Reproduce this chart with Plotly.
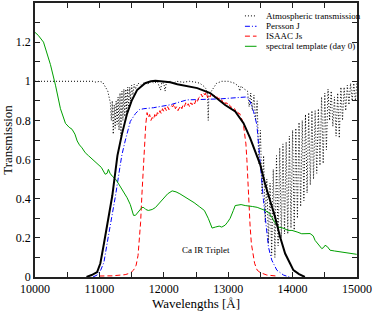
import plotly.graph_objects as go

# ---------------- data ----------------
atm_wl = [10000, 10500, 10900, 10950, 11000, 11050, 11100, 11130, 11150, 11170,
          11185, 11200, 11215, 11230, 11245, 11260, 11275, 11290, 11305, 11320,
          11335, 11350, 11365, 11380, 11395, 11410, 11425, 11440, 11455, 11470,
          11485, 11500, 11520, 11540, 11560, 11600, 11650, 11700, 11750, 11800,
          11850, 11900, 11950, 11970, 12000, 12020, 12040, 12100, 12150, 12200,
          12300, 12400, 12500, 12560, 12620, 12660, 12680, 12690, 12700, 12720,
          12760, 12820, 12900, 13000, 13100, 13160, 13180, 13200, 13250,
          13300, 13325, 13350, 13375, 13400, 13425, 13450, 13475, 13500, 13525,
          13550, 13575, 13600, 13625, 13650, 13675, 13700, 13725, 13750, 13775,
          13800, 13825, 13850, 13875, 13900, 13925, 13950, 13975, 14000, 14025,
          14050, 14075, 14100, 14125, 14150, 14175, 14200, 14225, 14250, 14275,
          14300, 14325, 14350, 14375, 14400, 14425, 14450, 14475, 14500, 14525,
          14550, 14575, 14600, 14625, 14650, 14675, 14700, 14725, 14750, 14775,
          14800, 14825, 14850, 14875, 14900, 14925, 14950, 14975, 15000]
atm_tr = [1.0, 1.0, 1.0, 0.995, 1.0, 0.995, 0.97, 0.95, 0.92, 0.89,
          0.80, 0.90, 0.73, 0.88, 0.76, 0.90, 0.78, 0.92, 0.75, 0.94,
          0.72, 0.95, 0.80, 0.96, 0.82, 0.96, 0.84, 0.97, 0.86, 0.97,
          0.90, 0.98, 0.93, 0.985, 0.96, 0.99, 0.98, 0.995, 0.985, 1.0,
          0.99, 1.0, 0.955, 0.995, 0.99, 0.95, 0.995, 1.0, 0.99, 1.0,
          0.995, 1.0, 0.995, 0.99, 0.975, 0.96, 0.93, 0.80, 0.93, 0.94,
          0.965, 0.99, 1.0, 1.0, 0.99, 0.975, 0.95, 0.975, 0.96,
          0.95, 0.87, 0.94, 0.85, 0.93, 0.80, 0.90, 0.58, 0.75, 0.42,
          0.62, 0.28, 0.50, 0.17, 0.48, 0.11, 0.55, 0.10, 0.62, 0.16,
          0.66, 0.20, 0.68, 0.22, 0.69, 0.22, 0.72, 0.25, 0.75, 0.24,
          0.76, 0.30, 0.79, 0.36, 0.80, 0.39, 0.83, 0.43, 0.84, 0.47,
          0.85, 0.50, 0.85, 0.53, 0.86, 0.57, 0.92, 0.58, 0.94, 0.65,
          0.96, 0.80, 0.95, 0.77, 0.92, 0.72, 0.94, 0.71, 0.97, 0.80,
          0.97, 0.85, 0.98, 0.88, 0.99, 0.90, 0.99, 0.90, 1.0]

persson_wl = [10900, 10965, 11020, 11070, 11140, 11200, 11250, 11325, 11350, 11400,
              11480, 11560, 11620, 11690, 11840, 12100, 12360, 12870, 13200, 13290,
              13341, 13393, 13445, 13470, 13496, 13522, 13548, 13574, 13600, 13625,
              13677, 13755, 13858, 13950]
persson_tr = [0.0, 0.01, 0.035, 0.075, 0.21, 0.32, 0.415, 0.575, 0.625, 0.695,
              0.795, 0.835, 0.855, 0.86, 0.865, 0.88, 0.905, 0.91, 0.918, 0.92,
              0.896, 0.846, 0.778, 0.694, 0.609, 0.49, 0.39, 0.305, 0.238, 0.153,
              0.086, 0.035, 0.01, 0.0]

isaac_wl = [11000, 11200, 11400, 11480, 11530, 11570, 11600, 11620, 11640, 11660,
            11680, 11700, 11720,
            11740, 11760, 11780, 11800, 11820, 11840, 11860, 11880, 11900, 11920,
            11940, 11960, 11980, 12000, 12020, 12040, 12060, 12080, 12100, 12120,
            12140, 12160, 12180, 12200, 12220, 12240, 12260, 12280, 12300, 12320,
            12340, 12360, 12380, 12400, 12420, 12440, 12460, 12480, 12500, 12520,
            12540, 12560, 12580, 12600, 12620, 12640, 12660, 12680, 12700, 12720,
            12740, 12760, 12780, 12800, 12820, 12840, 12860, 12880, 12900, 12920,
            12940, 12960, 12980, 13000, 13020, 13040, 13060, 13080, 13100, 13120,
            13140, 13160, 13180, 13200,
            13220, 13240, 13260, 13275, 13290, 13305, 13320, 13340, 13360, 13385,
            13410, 13450, 13500, 13600, 13750]
isaac_tr = [0.005, 0.006, 0.012, 0.02, 0.035, 0.06, 0.11, 0.18, 0.28, 0.42,
            0.56, 0.68, 0.78,
            0.84, 0.815, 0.83, 0.80, 0.815, 0.805, 0.83, 0.815, 0.84, 0.83,
            0.85, 0.835, 0.86, 0.845, 0.865, 0.85, 0.87, 0.855, 0.865, 0.875,
            0.87, 0.885, 0.86, 0.87, 0.85, 0.865, 0.875, 0.86, 0.88, 0.87,
            0.89, 0.875, 0.885, 0.87, 0.89, 0.88, 0.895, 0.885, 0.905, 0.895,
            0.915, 0.92, 0.935, 0.92, 0.94, 0.93, 0.945, 0.915, 0.93, 0.92,
            0.94, 0.925, 0.93, 0.915, 0.925, 0.91, 0.915, 0.90, 0.905, 0.89,
            0.90, 0.885, 0.89, 0.875, 0.88, 0.865, 0.87, 0.855, 0.86, 0.845,
            0.85, 0.835, 0.835, 0.815,
            0.80, 0.77, 0.72, 0.68, 0.60, 0.48, 0.38, 0.26, 0.17, 0.11,
            0.07, 0.035, 0.022, 0.01, 0.005]

template_wl = [10000, 10050, 10132, 10200, 10240, 10318, 10395, 10473, 10530, 10575,
               10620, 10655, 10690, 10730, 10780, 10830, 10900, 10965, 11030, 11090,
               11120, 11140, 11165, 11200, 11250, 11300, 11370, 11430, 11480, 11510,
               11530, 11560, 11600, 11630, 11660, 11690, 11720, 11760, 11820, 11870,
               11940, 12000, 12060, 12130, 12190, 12250, 12300, 12360, 12420, 12470,
               12550, 12630, 12690, 12750, 12800, 12860, 12900, 12953, 12990, 13030,
               13080, 13109, 13200, 13264, 13380, 13450, 13574, 13640, 13677, 13720,
               13780, 13850, 13930, 13990, 14070, 14142, 14271, 14320, 14349, 14400,
               14453, 14480, 14504, 14540, 14581, 14650, 14736, 14850, 14995]
template_tr = [1.25, 1.235, 1.2, 1.13, 1.085, 0.98, 0.86, 0.785, 0.765, 0.755,
               0.73, 0.695, 0.675, 0.66, 0.635, 0.62, 0.60, 0.58, 0.56, 0.525,
               0.53, 0.55, 0.53, 0.515, 0.50, 0.475, 0.44, 0.405, 0.37, 0.33,
               0.315, 0.315, 0.33, 0.34, 0.355, 0.355, 0.345, 0.34, 0.345, 0.355,
               0.38, 0.40, 0.425, 0.44, 0.435, 0.425, 0.415, 0.405, 0.39, 0.38,
               0.36, 0.34, 0.30, 0.25, 0.255, 0.26, 0.255, 0.265, 0.28, 0.30,
               0.34, 0.365, 0.37, 0.365, 0.36, 0.356, 0.34, 0.325, 0.305, 0.28,
               0.255, 0.25, 0.238, 0.238, 0.23, 0.221, 0.222, 0.21, 0.187, 0.165,
               0.145, 0.15, 0.162, 0.155, 0.137, 0.133, 0.128, 0.122, 0.116]

filter_wl = [10800, 10880, 10965, 11015, 11070, 11120, 11200, 11280, 11350, 11430,
             11500, 11585, 11650, 11710, 11800, 11870, 11950, 12100, 12210, 12360,
             12520, 12720, 12953, 13109, 13238, 13341, 13419, 13496, 13574, 13651,
             13729, 13806, 13884, 13961, 14012, 14100, 14190]
filter_tr = [0.0, 0.01, 0.025, 0.07, 0.17, 0.265, 0.415, 0.62, 0.73, 0.835,
             0.90, 0.955, 0.975, 0.99, 1.0, 1.003, 1.0, 0.995, 0.985, 0.975,
             0.965, 0.94, 0.879, 0.846, 0.786, 0.71, 0.643, 0.576, 0.474, 0.39,
             0.305, 0.204, 0.12, 0.069, 0.035, 0.015, 0.0]

x_tickvals = [10000, 10500, 11000, 11500, 12000, 12500, 13000, 13500, 14000, 14500, 15000]
x_ticktext = ["10000", "", "11000", "", "12000", "", "13000", "", "14000", "", "15000"]
y_tickvals = [0, 0.1, 0.2, 0.3, 0.4, 0.5, 0.6, 0.7, 0.8, 0.9, 1.0, 1.1, 1.2, 1.3]
y_ticktext = ["0", "", "0.2", "", "0.4", "", "0.6", "", "0.8", "", "1", "", "1.2", ""]

legend_names = ["Atmospheric transmission", "Persson J", "ISAAC Js", "spectral template (day 0)"]
legend_colors = ["black", "#0000ff", "#ff0000", "#00a000"]
legend_dashes = ["1px,2px", "5px,2px,1px,2px", "5px,3px", "solid"]

# ---------------- figure ----------------
FONT = "Liberation Serif, Times New Roman, serif"
fig = go.Figure()

fig.add_trace(go.Scatter(x=atm_wl, y=atm_tr, mode="lines", name=legend_names[0],
                         line=dict(color=legend_colors[0], width=1, dash=legend_dashes[0])))
fig.add_trace(go.Scatter(x=persson_wl, y=persson_tr, mode="lines", name=legend_names[1],
                         line=dict(color=legend_colors[1], width=1, dash=legend_dashes[1])))
fig.add_trace(go.Scatter(x=isaac_wl, y=isaac_tr, mode="lines", name=legend_names[2],
                         line=dict(color=legend_colors[2], width=1, dash=legend_dashes[2])))
fig.add_trace(go.Scatter(x=template_wl, y=template_tr, mode="lines", name=legend_names[3],
                         line=dict(color=legend_colors[3], width=1)))
fig.add_trace(go.Scatter(x=filter_wl, y=filter_tr, mode="lines", name="filter",
                         line=dict(color="black", width=2)))

# manual compact legend (paper coordinates)
row_y = [0.953, 0.915, 0.879, 0.842]
for i, name in enumerate(legend_names):
    fig.add_shape(type="line", xref="paper", yref="paper",
                  x0=0.652, x1=0.688, y0=row_y[i], y1=row_y[i],
                  line=dict(color=legend_colors[i], width=1,
                            dash=legend_dashes[i]))
    fig.add_annotation(text=name, xref="paper", yref="paper", x=0.711, y=row_y[i],
                       xanchor="left", yanchor="middle", showarrow=False,
                       font=dict(family=FONT, size=9, color="black"))

fig.add_annotation(text="Ca IR Triplet", x=12659, y=0.137, xref="x", yref="y",
                   showarrow=False, font=dict(family=FONT, size=9, color="black"))

axis_common = dict(showgrid=False, zeroline=False, showline=True, linecolor="#222",
                   linewidth=1.5, mirror="ticks", ticks="inside", ticklen=5,
                   tickwidth=1, tickcolor="#222",
                   tickfont=dict(family=FONT, size=12, color="black"))

fig.update_layout(
    width=374, height=311,
    margin=dict(l=35, r=17, t=1, b=34),
    paper_bgcolor="white", plot_bgcolor="white",
    showlegend=False,
    font=dict(family=FONT, color="black"),
    xaxis=dict(range=[10000, 15000], tickmode="array", tickvals=x_tickvals,
               ticktext=x_ticktext,
               title=dict(text="Wavelengths [Å]", font=dict(family=FONT, size=13),
                          standoff=2),
               **axis_common),
    yaxis=dict(range=[0, 1.4], tickmode="array", tickvals=y_tickvals,
               ticktext=y_ticktext,
               title=dict(text="Transmission", font=dict(family=FONT, size=13),
                          standoff=2),
               **axis_common),
)

fig.write_html("out.html", config={"displayModeBar": False},
               post_script="document.body.style.margin='0px';document.body.style.padding='0px';")
